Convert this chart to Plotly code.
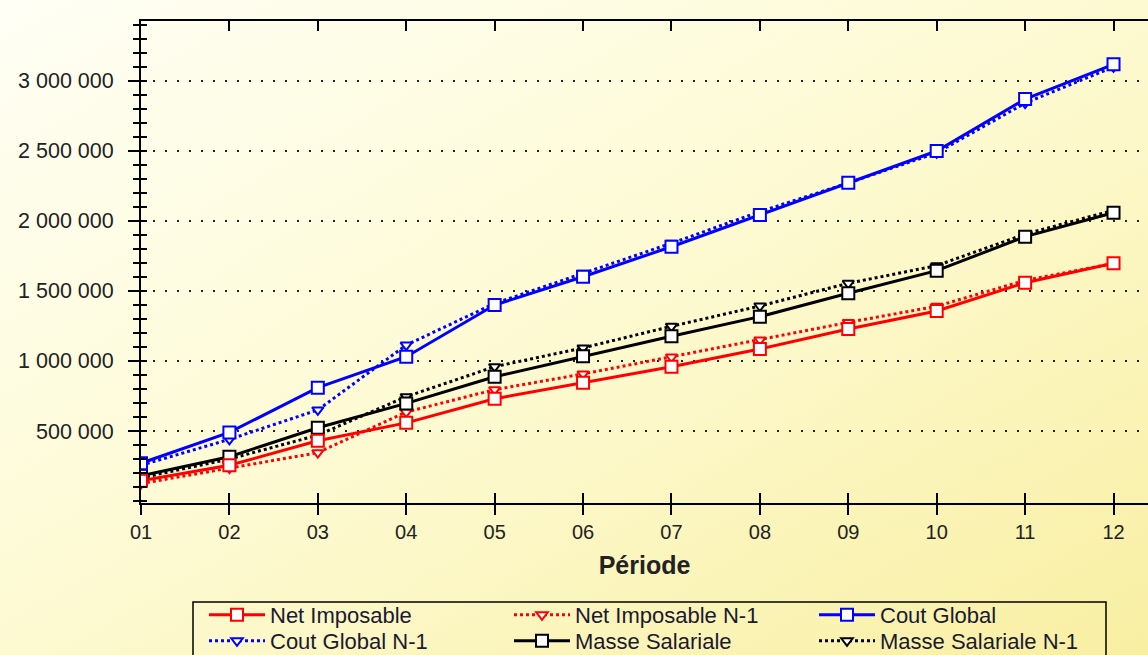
import base64
import plotly.graph_objects as go

# ---------------- data ----------------
PERIODS = ["01", "02", "03", "04", "05", "06", "07", "08", "09", "10", "11", "12"]

NET_IMPOSABLE = [145000, 255000, 430000, 558000, 730000, 845000, 959000, 1085000, 1228000, 1356000, 1558000, 1697000]
NET_IMPOSABLE_N1 = [125000, 235000, 345000, 635000, 795000, 907000, 1028000, 1150000, 1275000, 1390000, 1575000, 1695000]
COUT_GLOBAL = [270000, 490000, 809000, 1030000, 1399000, 1601000, 1815000, 2041000, 2272000, 2498000, 2869000, 3117000]
COUT_GLOBAL_N1 = [255000, 440000, 650000, 1113000, 1410000, 1625000, 1840000, 2065000, 2270000, 2485000, 2840000, 3098000]
MASSE_SALARIALE = [180000, 316000, 523000, 697000, 887000, 1033000, 1176000, 1316000, 1483000, 1644000, 1887000, 2058000]
MASSE_SALARIALE_N1 = [165000, 300000, 470000, 745000, 959000, 1093000, 1247000, 1392000, 1554000, 1680000, 1905000, 2075000]

Y_TICK_VALS = [500000, 1000000, 1500000, 2000000, 2500000, 3000000]
Y_TICK_TEXT = ["500 000", "1 000 000", "1 500 000", "2 000 000", "2 500 000", "3 000 000"]

# ---------------- layout constants ----------------
W, H = 1148, 655
ML, MR, MT, MB = 141, 0, 21, 152
PW, PH = W - ML - MR, H - MT - MB
FONT = "Liberation Sans, Arial, sans-serif"
X_RANGE = [0, 11.39]
Y_RANGE = [-14000, 3426000]

RED, BLUE, BLACK = "#FF0000", "#0000FF", "#000000"


def px_x(p):
    return (p - ML) / PW


def px_y(p):
    return (MT + PH - p) / PH


fig = go.Figure()


def add(name, y, color, dotted, rank, legend):
    fig.add_trace(go.Scatter(
        x=PERIODS, y=y, name=name, mode="lines+markers",
        line=dict(color=color, width=3, dash="3px,3px" if dotted else "solid"),
        marker=dict(symbol="triangle-down" if dotted else "square",
                    size=10 if dotted else 12, color="white",
                    line=dict(color=color, width=2)),
        legendrank=rank, legend=legend,
    ))


# N-1 series drawn first (below); legend rows split over two legends
add("Masse Salariale N-1", MASSE_SALARIALE_N1, BLACK, True, 6, "legend2")
add("Net Imposable N-1", NET_IMPOSABLE_N1, RED, True, 2, "legend")
add("Cout Global N-1", COUT_GLOBAL_N1, BLUE, True, 4, "legend2")
add("Masse Salariale", MASSE_SALARIALE, BLACK, False, 5, "legend2")
add("Net Imposable", NET_IMPOSABLE, RED, False, 1, "legend")
add("Cout Global", COUT_GLOBAL, BLUE, False, 3, "legend")

# empty trace so the overlay axes (inside ticks) get drawn
fig.add_trace(go.Scatter(x=[], y=[], xaxis="x2", yaxis="y2", showlegend=False, hoverinfo="skip"))

svg = (
    f'<svg xmlns="http://www.w3.org/2000/svg" width="{W}" height="{H}" preserveAspectRatio="none">'
    '<defs><linearGradient id="g" x1="0" y1="0" x2="1" y2="1">'
    '<stop offset="0" stop-color="#FFFFF6"/>'
    '<stop offset="0.5" stop-color="#FDFAD2"/>'
    '<stop offset="1" stop-color="#F8EFA2"/>'
    '</linearGradient></defs>'
    f'<rect width="{W}" height="{H}" fill="url(#g)"/></svg>'
)
bg = "data:image/svg+xml;base64," + base64.b64encode(svg.encode()).decode()

legend_common = dict(
    orientation="h", xanchor="left", yanchor="top",
    borderwidth=0, bgcolor="rgba(0,0,0,0)",
    font=dict(family=FONT, size=22, color="#1a1a30"),
    itemwidth=56, entrywidth=234, entrywidthmode="pixels",
    tracegroupgap=0,
)

fig.update_layout(
    width=W, height=H,
    margin=dict(l=ML, r=MR, t=MT, b=MB, autoexpand=False),
    paper_bgcolor="#FDFAD2",
    plot_bgcolor="rgba(0,0,0,0)",
    font=dict(family=FONT, color="#222222"),
    images=[dict(source=bg, xref="paper", yref="paper",
                 x=-ML / PW, y=1 + MT / PH, sizex=W / PW, sizey=H / PH,
                 xanchor="left", yanchor="top", sizing="stretch", layer="below")],
    shapes=[dict(type="rect", xref="paper", yref="paper",
                 x0=px_x(193), x1=px_x(1106), y0=px_y(602), y1=px_y(720),
                 line=dict(color="black", width=1.5), fillcolor="rgba(0,0,0,0)")],
    showlegend=True,
    legend=dict(legend_common, x=px_x(204), y=px_y(594)),
    legend2=dict(legend_common, x=px_x(204), y=px_y(620)),
    xaxis=dict(
        type="category", range=X_RANGE,
        showline=True, linecolor="black", linewidth=2, mirror=True,
        ticks="outside", ticklen=10, tickwidth=2, tickcolor="black",
        tickfont=dict(family=FONT, size=20, color="#222222"),
        ticklabelstandoff=0,
        showgrid=False, zeroline=False,
        title=dict(text="<b>Période</b>", font=dict(family=FONT, size=25, color="#222222"), standoff=14),
    ),
    xaxis2=dict(
        overlaying="x", anchor="y2", range=X_RANGE, tick0=0, dtick=1,
        ticks="inside", ticklen=10, tickwidth=2, tickcolor="black",
        mirror="allticks", showline=False, showticklabels=False,
        showgrid=False, zeroline=False,
    ),
    yaxis=dict(
        range=Y_RANGE, tickmode="array", tickvals=Y_TICK_VALS, ticktext=Y_TICK_TEXT,
        showline=True, linecolor="black", linewidth=2, mirror=False,
        ticks="outside", ticklen=11, tickwidth=2, tickcolor="black",
        tickfont=dict(family=FONT, size=21.5, color="#222222"),
        ticklabelstandoff=10,
        showgrid=True, gridcolor="#222222", gridwidth=2, griddash="2px,10px",
        zeroline=False,
        minor=dict(tickmode="linear", tick0=0, dtick=100000, ticks="outside",
                   ticklen=6, tickwidth=2, tickcolor="black", showgrid=False),
    ),
    yaxis2=dict(
        overlaying="y", anchor="x2", range=Y_RANGE, tickmode="array", tickvals=Y_TICK_VALS,
        ticks="inside", ticklen=5, tickwidth=2, tickcolor="black",
        showticklabels=False, showline=False, showgrid=False, zeroline=False,
        minor=dict(tickmode="linear", tick0=0, dtick=100000, ticks="inside",
                   ticklen=6, tickwidth=2, tickcolor="black", showgrid=False),
    ),
)

fig.write_html(
    "out.html",
    config={"displayModeBar": False},
    post_script="document.body.style.margin='0';document.body.style.overflow='hidden';",
)
